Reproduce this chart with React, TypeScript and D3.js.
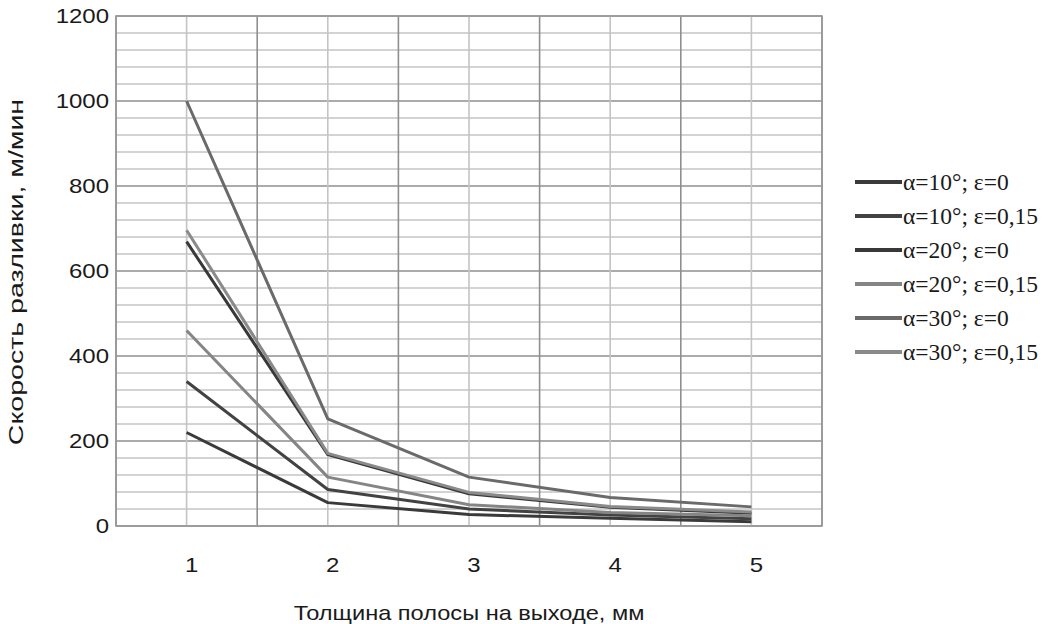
import React from "react";
import * as d3 from "d3";

const thickness = [1, 2, 3, 4, 5];
const seriesNames = [
  "α=10°; ε=0",
  "α=10°; ε=0,15",
  "α=20°; ε=0",
  "α=20°; ε=0,15",
  "α=30°; ε=0",
  "α=30°; ε=0,15",
];
const s10e0 = [220, 55, 27, 18, 10];
const s10e15 = [340, 86, 40, 26, 17];
const s20e0 = [669, 168, 76, 44, 30];
const s20e15 = [460, 115, 50, 32, 24];
const s30e0 = [1000, 252, 115, 67, 45];
const s30e15 = [696, 171, 79, 46, 33];
const seriesValues = [s10e0, s10e15, s20e0, s20e15, s30e0, s30e15];
const seriesColors = ["#3a3a3a", "#424242", "#383838", "#858585", "#6a6a6a", "#8a8a8a"];
const yTicks = [0, 200, 400, 600, 800, 1000, 1200];

const W = 1058;
const H = 624;
const L = 116, R = 822, T = 16, B = 526;

export default function App() {
  const x = d3.scaleLinear().domain([0.5, 5.5]).range([L, R]);
  const y = d3.scaleLinear().domain([0, 1200]).range([B, T]);
  const line = d3
    .line<number>()
    .x((_, i) => x(thickness[i]))
    .y((v) => y(v));

  const minor = d3.range(0, 1201, 40);
  const halfX = d3.range(0.5, 5.6, 1);

  const sans = "'Liberation Sans', Arial, Helvetica, sans-serif";
  const serif = "'Liberation Serif', 'Times New Roman', serif";

  return (
    <svg
      width={W}
      height={H}
      style={{ position: "absolute", left: 0, top: 0, background: "#fff" }}
    >
      <rect x={0} y={0} width={W} height={H} fill="#fff" />
      {/* horizontal grid */}
      {minor.map((v) => (
        <line
          key={"h" + v}
          x1={L}
          x2={R}
          y1={y(v)}
          y2={y(v)}
          stroke={v % 200 === 0 ? "#8f8f8f" : "#c4c4c4"}
          strokeWidth={1.6}
        />
      ))}
      {/* vertical grid at integers (light) */}
      {thickness.map((t) => (
        <line key={"v" + t} x1={x(t)} x2={x(t)} y1={T} y2={B} stroke="#c4c4c4" strokeWidth={1.6} />
      ))}
      {halfX.map((t) => (
        <line key={"vh" + t} x1={x(t)} x2={x(t)} y1={T} y2={B} stroke="#8f8f8f" strokeWidth={1.6} />
      ))}
      <rect x={L} y={T} width={R - L} height={B - T} fill="none" stroke="#999" strokeWidth={1.6} />

      {/* series */}
      {seriesValues.map((vals, i) => (
        <path
          key={"s" + i}
          d={line(vals) || ""}
          fill="none"
          stroke={seriesColors[i]}
          strokeWidth={3}
          strokeLinejoin="round"
        />
      ))}

      {/* y ticks */}
      {yTicks.map((v) => (
        <text
          key={"yt" + v}
          x={109}
          y={y(v)}
          dy="0.36em"
          textAnchor="end"
          fontFamily={sans}
          fontSize={20}
          fill="#1a1a1a"
          transform={`translate(${109},0) scale(1.2,1) translate(${-109},0)`}
        >
          {v}
        </text>
      ))}
      {/* x ticks */}
      {thickness.map((t) => (
        <text
          key={"xt" + t}
          x={x(t) + 5}
          y={565}
          dy="0.36em"
          textAnchor="middle"
          fontFamily={sans}
          fontSize={20}
          fill="#1a1a1a"
          transform={`translate(${x(t) + 5},0) scale(1.2,1) translate(${-(x(t) + 5)},0)`}
        >
          {t}
        </text>
      ))}
      {/* axis titles */}
      <text
        x={469}
        y={620}
        textAnchor="middle"
        fontFamily={sans}
        fontSize={20}
        fill="#1a1a1a"
        transform={`translate(469,0) scale(1.18,1) translate(-469,0)`}
      >
        Толщина полосы на выходе, мм
      </text>
      <text
        transform="translate(23,272) rotate(-90) scale(1.36,1)"
        textAnchor="middle"
        fontFamily={sans}
        fontSize={21}
        fill="#1a1a1a"
      >
        Скорость разливки, м/мин
      </text>

      {/* legend */}
      {seriesNames.map((name, i) => {
        const ly = 182 + i * 34;
        return (
          <g key={"lg" + i}>
            <line x1={855} x2={902} y1={ly} y2={ly} stroke={seriesColors[i]} strokeWidth={4} />
            <text
              x={903}
              y={ly}
              dy="0.33em"
              fontFamily={serif}
              fontSize={23.5}
              fill="#1a1a1a"
            >
              {name}
            </text>
          </g>
        );
      })}
    </svg>
  );
}
